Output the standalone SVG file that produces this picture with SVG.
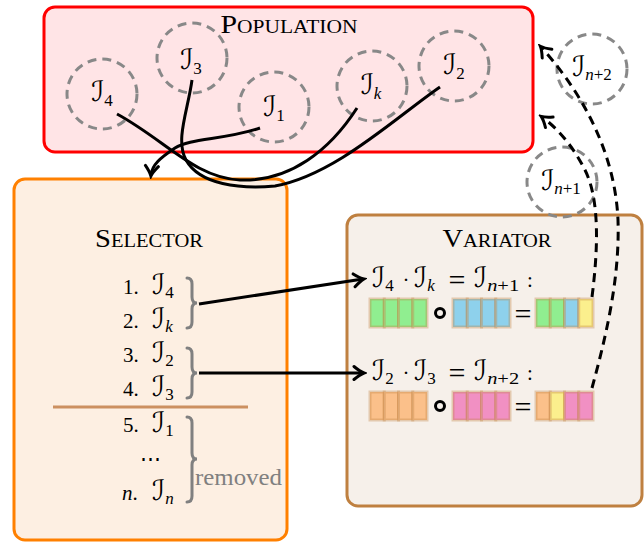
<svg xmlns="http://www.w3.org/2000/svg" width="644" height="542" viewBox="0 0 644 542">
<style>
.t{font-family:"Liberation Serif",serif;font-size:21px;fill:#000}
.eq{font-family:"Liberation Serif",serif;font-size:30px;fill:#000;text-anchor:middle}
.title{font-family:"Liberation Serif",serif;font-size:25px;font-variant:small-caps;fill:#000;text-anchor:middle}
.m{font-family:"DejaVu Serif","DejaVu Sans",serif;font-size:28px;fill:#000}
.sub{font-family:"Liberation Serif",serif;font-size:17px}
.it{font-style:italic}
.dc{fill:none;stroke:#888;stroke-width:3;stroke-dasharray:9 6}
.conn{fill:none;stroke:#000;stroke-width:3}
.dconn{fill:none;stroke:#000;stroke-width:3;stroke-dasharray:9 6}
.brace{fill:none;stroke:#808080;stroke-width:3;stroke-linecap:round}
.cell{stroke:#bf8040;stroke-opacity:0.35;stroke-width:3}
.g{fill:#90ee90}.b{fill:#8ed1ec}.o{fill:#fbc08a}.p{fill:#f190c3}.y{fill:#fbef8d}
.op{fill:none;stroke:#000;stroke-width:3}
</style>
<defs>
<marker id="ah" viewBox="-12 -10 16 20" markerWidth="16" markerHeight="20" refX="0" refY="0" orient="auto" markerUnits="userSpaceOnUse">
<path d="M-9,-6.5 Q-3,-1.5 1,0 Q-3,1.5 -9,6.5" fill="none" stroke="#000" stroke-width="3" stroke-linecap="round"/>
</marker>
</defs>

<g id="population">
<rect x="44" y="7" width="489" height="145" rx="11" fill="#ffe4e6" stroke="#ff0000" stroke-width="3"/>
<text class="title" x="289" y="33" textLength="137" lengthAdjust="spacingAndGlyphs">Population</text>
</g>
<g id="I4"><circle class="dc" cx="102" cy="94" r="35"/><text class="m" x="102" y="101" text-anchor="middle">ℐ<tspan class="sub" dy="5">4</tspan></text></g>
<g id="I3"><circle class="dc" cx="192" cy="58" r="35"/><text class="m" x="191" y="69" text-anchor="middle">ℐ<tspan class="sub" dy="5">3</tspan></text></g>
<g id="I1"><circle class="dc" cx="274" cy="107" r="35"/><text class="m" x="274" y="116" text-anchor="middle">ℐ<tspan class="sub" dy="5">1</tspan></text></g>
<g id="Ik"><circle class="dc" cx="372" cy="86" r="35"/><text class="m" x="371" y="94" text-anchor="middle">ℐ<tspan class="sub it" dy="5">k</tspan></text></g>
<g id="I2"><circle class="dc" cx="454" cy="66" r="35"/><text class="m" x="454" y="74" text-anchor="middle">ℐ<tspan class="sub" dy="5">2</tspan></text></g>

<g id="selector">
<rect x="14" y="179" width="273" height="361" rx="11" fill="#fdefe2" stroke="#ff8000" stroke-width="3"/>
<text class="title" x="149" y="247" textLength="108" lengthAdjust="spacingAndGlyphs">Selector</text>
<text class="t" x="123" y="294">1.</text><text class="m" x="152" y="294">ℐ<tspan class="sub" dy="4">4</tspan></text>
<text class="t" x="123" y="328">2.</text><text class="m" x="152" y="328">ℐ<tspan class="sub it" dy="4">k</tspan></text>
<text class="t" x="123" y="362">3.</text><text class="m" x="152" y="362">ℐ<tspan class="sub" dy="4">2</tspan></text>
<text class="t" x="123" y="396">4.</text><text class="m" x="152" y="396">ℐ<tspan class="sub" dy="4">3</tspan></text>
<line x1="53" y1="407" x2="248" y2="407" stroke="#cc9060" stroke-width="3"/>
<text class="t" x="123" y="432">5.</text><text class="m" x="152" y="432">ℐ<tspan class="sub" dy="4">1</tspan></text>
<text class="t" x="150" y="466" text-anchor="middle">⋯</text>
<text class="t" x="122" y="500"><tspan class="it">n</tspan>.</text><text class="m" x="152" y="500">ℐ<tspan class="sub it" dy="4">n</tspan></text>
<path class="brace" d="M187,278 Q192,278 192,284 L192,297 Q192,303 197,303 Q192,303 192,309 L192,322 Q192,328 187,328"/>
<path class="brace" d="M187,348 Q192,348 192,354 L192,367 Q192,373 197,373 Q192,373 192,379 L192,392 Q192,398 187,398"/>
<path class="brace" d="M187,417 Q192,417 192,423 L192,453 Q192,459 197,459 Q192,459 192,465 L192,496 Q192,502 187,502"/>
<text x="195" y="485" font-family="Liberation Serif,serif" font-size="23" fill="#808080" textLength="87" lengthAdjust="spacingAndGlyphs">removed</text>
</g>

<g id="variator">
<rect x="347" y="215" width="295" height="291" rx="11" fill="#f6f0ea" stroke="#bf8040" stroke-width="3"/>
<text class="title" x="497" y="247" textLength="109" lengthAdjust="spacingAndGlyphs">Variator</text>
<text class="m" x="372" y="287">ℐ<tspan class="sub" dy="4">4</tspan></text>
<text class="t" x="406" y="287" text-anchor="middle">·</text>
<text class="m" x="414" y="287">ℐ<tspan class="sub it" dy="4">k</tspan></text>
<text class="eq" x="457" y="290">=</text>
<text class="m" x="474" y="287">ℐ<tspan class="sub" dy="4" textLength="32" lengthAdjust="spacingAndGlyphs"><tspan class="it">n</tspan>+1</tspan></text>
<text class="t" x="530" y="287" text-anchor="middle">:</text>
<g id="row1">
<rect class="cell g" x="370" y="299" width="14.25" height="28"/><rect class="cell g" x="384.25" y="299" width="14.25" height="28"/><rect class="cell g" x="398.5" y="299" width="14.25" height="28"/><rect class="cell g" x="412.75" y="299" width="14.25" height="28"/>
<circle class="op" cx="440" cy="313" r="4.5"/>
<rect class="cell b" x="453" y="299" width="14.25" height="28"/><rect class="cell b" x="467.25" y="299" width="14.25" height="28"/><rect class="cell b" x="481.5" y="299" width="14.25" height="28"/><rect class="cell b" x="495.75" y="299" width="14.25" height="28"/>
<text class="eq" x="523" y="324">=</text>
<rect class="cell g" x="536" y="299" width="14.25" height="28"/><rect class="cell g" x="550.25" y="299" width="14.25" height="28"/><rect class="cell b" x="564.5" y="299" width="14.25" height="28"/><rect class="cell y" x="578.75" y="299" width="14.25" height="28"/>
</g>
<text class="m" x="372" y="380">ℐ<tspan class="sub" dy="4">2</tspan></text>
<text class="t" x="406" y="380" text-anchor="middle">·</text>
<text class="m" x="414" y="380">ℐ<tspan class="sub" dy="4">3</tspan></text>
<text class="eq" x="457" y="383">=</text>
<text class="m" x="474" y="380">ℐ<tspan class="sub" dy="4" textLength="32" lengthAdjust="spacingAndGlyphs"><tspan class="it">n</tspan>+2</tspan></text>
<text class="t" x="530" y="380" text-anchor="middle">:</text>
<g id="row2">
<rect class="cell o" x="370" y="392" width="14.25" height="28"/><rect class="cell o" x="384.25" y="392" width="14.25" height="28"/><rect class="cell o" x="398.5" y="392" width="14.25" height="28"/><rect class="cell o" x="412.75" y="392" width="14.25" height="28"/>
<circle class="op" cx="440" cy="406" r="4.5"/>
<rect class="cell p" x="453" y="392" width="14.25" height="28"/><rect class="cell p" x="467.25" y="392" width="14.25" height="28"/><rect class="cell p" x="481.5" y="392" width="14.25" height="28"/><rect class="cell p" x="495.75" y="392" width="14.25" height="28"/>
<text class="eq" x="523" y="417">=</text>
<rect class="cell o" x="536" y="392" width="14.25" height="28"/><rect class="cell y" x="550.25" y="392" width="14.25" height="28"/><rect class="cell p" x="564.5" y="392" width="14.25" height="28"/><rect class="cell p" x="578.75" y="392" width="14.25" height="28"/>
</g>
</g>

<g id="In1"><circle class="dc" cx="562" cy="182" r="35"/><text class="m" x="561" y="190" text-anchor="middle">ℐ<tspan class="sub" dy="4"><tspan class="it">n</tspan>+1</tspan></text></g>
<g id="In2"><circle class="dc" cx="592" cy="69" r="35"/><text class="m" x="592" y="76" text-anchor="middle">ℐ<tspan class="sub" dy="4"><tspan class="it">n</tspan>+2</tspan></text></g>

<g id="connectors">
<path class="conn" d="M117,114 C165,140 195,178 240,180 C290,182 330,150 357,108"/>
<path class="conn" d="M192,80 C188,110 175,140 186,160 C200,185 240,189 275,186 C335,175 395,118 440,87"/>
<path class="conn" d="M260,128 C225,140 190,138 175,148 C160,158 152,165 151,175" marker-end="url(#ah)"/>
<path class="conn" d="M199,304 L363,279" marker-end="url(#ah)"/>
<path class="conn" d="M199,373 L363,373" marker-end="url(#ah)"/>
<path class="dconn" d="M592,297 C598,250 600,200 585,170 C575,150 560,130 542,117" marker-end="url(#ah)"/>
<path class="dconn" d="M592,388 C605,340 620,280 618,220 C615,150 580,90 541,47" marker-end="url(#ah)"/>
</g>
</svg>
